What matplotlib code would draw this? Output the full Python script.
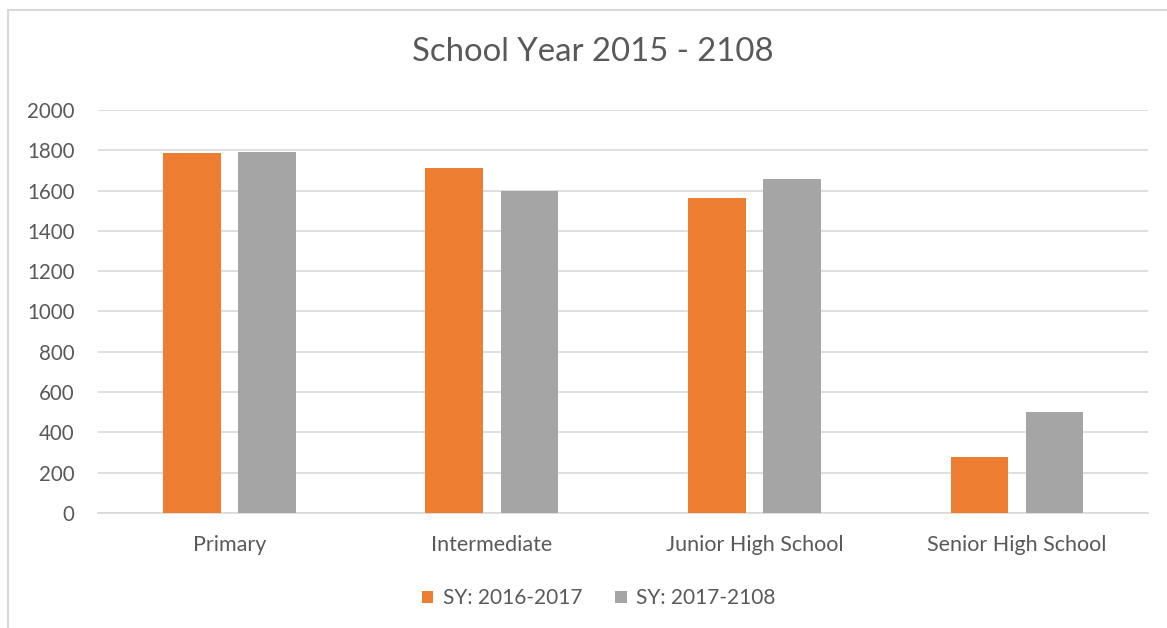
import numpy as np
import matplotlib.pyplot as plt
from matplotlib.lines import Line2D

plt.rcParams['font.family'] = ['Lato', 'DejaVu Sans']

categories = ['Primary', 'Intermediate', 'Junior High School', 'Senior High School']
sy_2016_2017 = [1787, 1714, 1565, 277]
sy_2017_2108 = [1790, 1598, 1656, 500]
series_names = ['SY: 2016-2017', 'SY: 2017-2108']
yticks = [0, 200, 400, 600, 800, 1000, 1200, 1400, 1600, 1800, 2000]

text_color = '#595959'
grid_color = '#d9d9d9'

fig = plt.figure(figsize=(11.67, 6.28), dpi=100)
ax = fig.add_axes([0.084, 0.183, 0.9, 0.642])

x = np.arange(len(categories))
w = 0.22
b1 = ax.bar(x - 0.143, sy_2016_2017, w, color='#ED7D31', label=series_names[0], zorder=3)
b2 = ax.bar(x + 0.143, sy_2017_2108, w, color='#A5A5A5', label=series_names[1], zorder=3)

ax.set_xlim(-0.5, 3.5)
ax.set_ylim(0, 2000)
ax.set_yticks(yticks)
ax.set_xticks(x)
ax.set_xticklabels(categories)
ax.yaxis.grid(True, color=grid_color, linewidth=1.2, zorder=0)
for s in ['top', 'right', 'left']:
    ax.spines[s].set_visible(False)
ax.spines['bottom'].set_color(grid_color)
ax.spines['bottom'].set_linewidth(1.2)
ax.tick_params(axis='both', length=0, colors=text_color)
ax.tick_params(axis='y', pad=17, labelsize=14.8)
ax.tick_params(axis='x', pad=16, labelsize=15.5)

fig.text(0.508, 0.917, 'School Year 2015 - 2108', ha='center', va='center',
         fontsize=23.7, color=text_color)

leg = fig.legend(handles=[b1, b2], loc='center', bbox_to_anchor=(0.513, 0.047),
                 ncol=2, frameon=False, fontsize=15, handlelength=0.55,
                 handleheight=0.55, handletextpad=0.45, columnspacing=1.6)
for t in leg.get_texts():
    t.set_color(text_color)

# chart area border (top and left edges)
fig.add_artist(Line2D([8 / 1167, 1], [1 - 10 / 628, 1 - 10 / 628],
                      transform=fig.transFigure, color=grid_color, linewidth=1.5))
fig.add_artist(Line2D([8 / 1167, 8 / 1167], [0, 1 - 10 / 628],
                      transform=fig.transFigure, color=grid_color, linewidth=1.5))

fig.savefig('out.png', dpi=100)
